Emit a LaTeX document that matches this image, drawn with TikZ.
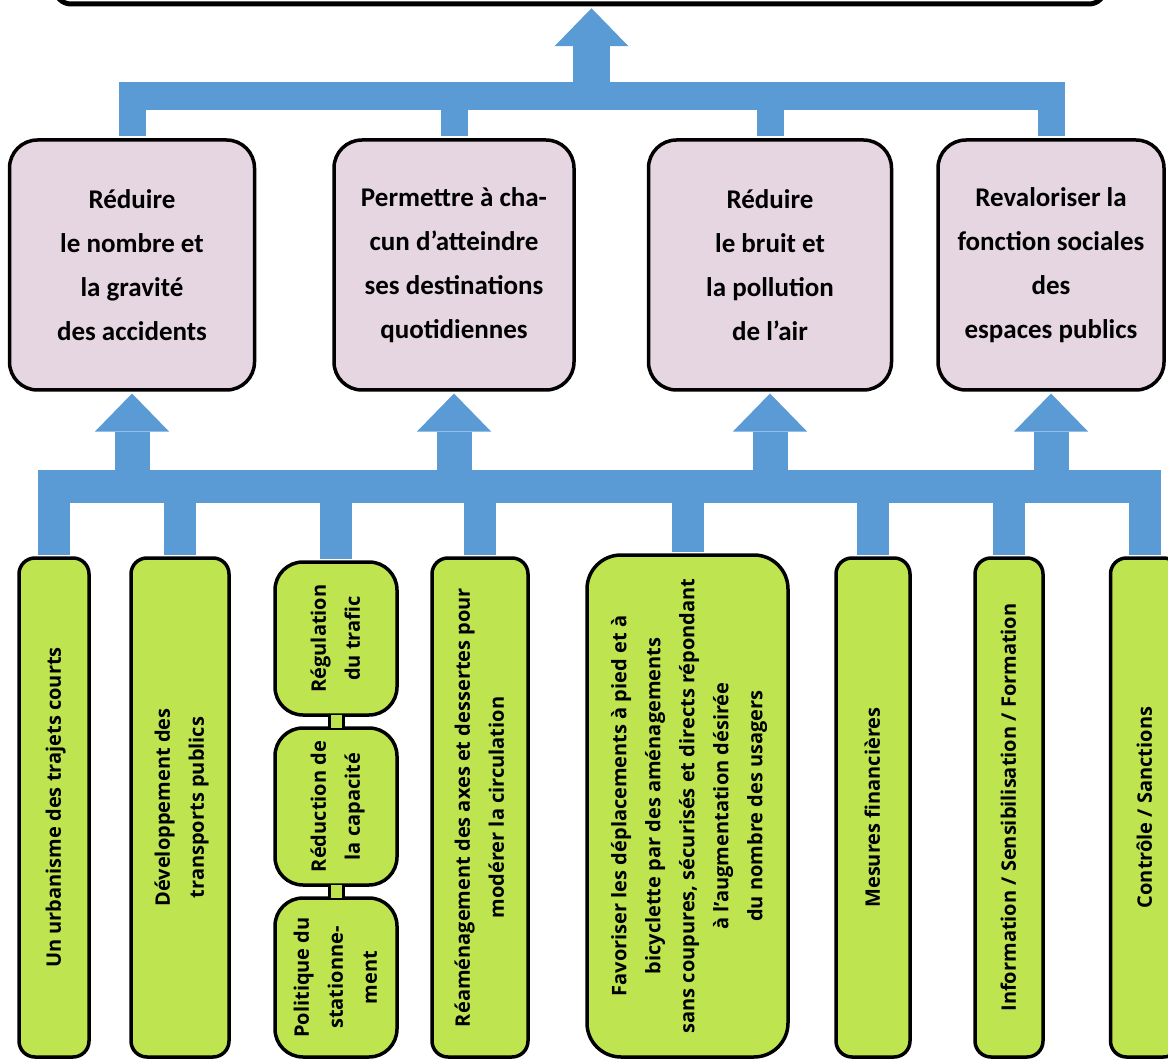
\documentclass[tikz,border=0pt]{standalone}
\usepackage{graphicx}
\usepackage{fontspec}
\setmainfont{Carlito}
\newfontfamily\opensans{Open Sans}
\usetikzlibrary{arrows.meta}
\definecolor{bleu}{RGB}{91,155,213}
\definecolor{rose}{RGB}{230,214,226}
\definecolor{vert}{RGB}{190,228,80}
\newcommand{\vtext}[1]{\rotatebox{90}{\begin{tabular}{@{}c@{}}#1\end{tabular}}}

\begin{document}
\begin{tikzpicture}[x=1pt, y=-1pt, goalbox/.style={draw, line width=5pt, rounded corners=16pt, minimum width=1050pt, minimum height=60pt}, obj/.style={draw, fill=rose, line width=3.5pt, rounded corners=28pt, minimum height=250pt, align=center, font=\fontsize{27}{44}\selectfont\bfseries}, act/.style={draw, fill=vert, line width=3.5pt, rounded corners=16pt, minimum height=499pt, inner sep=0pt, font=\opensans\fontsize{20}{34}\selectfont\bfseries}, bar/.style={fill=bleu, inner sep=0pt}, drop/.style={draw=bleu, shorten >=1.75pt}, arr/.style={draw=bleu, -{Triangle[width=74pt, length=38pt, line width=0pt]}, shorten >=1.75pt}, neck/.style={line width=3pt, double=vert, double distance=11pt, shorten <=-1.75pt, shorten >=-1.75pt}]
                \useasboundingbox (0,0) rectangle (1168,1059);
                \clip (0,0) rectangle (1168,1059);
                % nodes
                \node[goalbox]                  (goal)   at (580,-26)    {};
                \node[bar, minimum width=946pt, minimum height=28pt] (topbar) at (591.5,96) {};
                \node[obj, minimum width=245pt] (ob1)    at (132,265)    {Réduire\\le nombre et\\la gravité\\des accidents};
                \node[obj, minimum width=240pt] (ob2)    at (454,265)    {Permettre à cha-\\cun d’atteindre\\ses destinations\\quotidiennes};
                \node[obj, minimum width=243pt] (ob3)    at (770,265)    {Réduire\\le bruit et\\la pollution\\de l’air};
                \node[obj, minimum width=226pt] (ob4)    at (1051,265)   {Revaloriser la\\fonction sociales\\des\\espaces publics};
                \node[bar, minimum width=1123pt, minimum height=33pt] (lowbar) at (599.5,486.5) {};
                \node[act, minimum width=70pt]  (urb)    at (54,807.5)   {\vtext{Un urbanisme des trajets courts}};
                \node[act, minimum width=98pt]  (dev)    at (180,807.5)  {\vtext{Développement des\\transports publics}};
                \node[act, minimum width=122pt, minimum height=153pt, rounded corners=28pt] (regul) at (336,638.5) {\vtext{Régulation\\du trafic}};
                \node[act, minimum width=122pt, minimum height=157pt, rounded corners=28pt] (reduc) at (336,806.5) {\vtext{Réduction de\\la capacité}};
                \node[act, minimum width=122pt, minimum height=159pt, rounded corners=28pt] (polit) at (336,977.5) {\vtext{Politique du\\stationne-\\ment}};
                \node[act, minimum width=96pt]  (ream)   at (480,807.5)  {\vtext{Réaménagement des axes et dessertes pour\\modérer la circulation}};
                \node[act, minimum width=201pt, minimum height=502pt, rounded corners=34pt] (fav) at (687.5,806) {\vtext{Favoriser les déplacements à pied et à\\bicyclette par des aménagements\\sans coupures, sécurisés et directs répondant\\à l’augmentation désirée\\du nombre des usagers}};
                \node[act, minimum width=74pt]  (fin)    at (873,807.5)  {\vtext{Mesures financières}};
                \node[act, minimum width=68pt]  (info)   at (1009,807.5) {\vtext{Information / Sensibilisation / Formation}};
                \node[act, minimum width=69pt]  (ctrl)   at (1145,807.5) {\vtext{Contrôle / Sanctions}};
                % edges
                \draw[arr, line width=37pt] (topbar.center) -- (topbar.center |- goal.south);
                \foreach \o in {ob1,ob2,ob3,ob4} {
                    \draw[drop, line width=27pt] (\o.north |- topbar.center) -- (\o.north);
                    \draw[arr, line width=35pt] (\o.south |- lowbar.center) -- (\o.south);
                }
                \foreach \a in {urb,dev,regul,ream,fav,fin,info,ctrl}
                    \draw[drop, line width=32pt] (\a.north |- lowbar.center) -- (\a.north);
                \draw[neck] (regul.south) -- (reduc.north);
                \draw[neck] (reduc.south) -- (polit.north);
            \end{tikzpicture}
\end{document}
